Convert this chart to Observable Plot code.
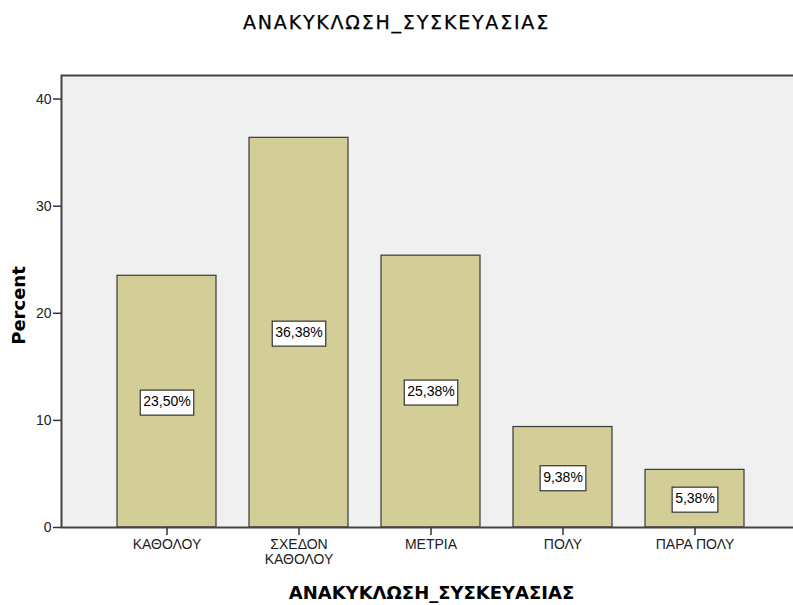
<!DOCTYPE html>
<html>
<head>
<meta charset="utf-8">
<script src="https://cdn.jsdelivr.net/npm/d3@7"></script>
<script src="https://cdn.jsdelivr.net/npm/@observablehq/plot@0.6"></script>
<style>
  html, body { margin: 0; padding: 0; background: #fff; overflow: hidden; }
  #title { height: 44px; line-height: 44px; text-align: center; font-family: "DejaVu Sans", Verdana, sans-serif; font-size: 19px; letter-spacing: 1.8px; color: #000; -webkit-text-stroke: 0.25px #000; }
  #chart svg { overflow: hidden; display: block; }
</style>
</head>
<body>
<div id="title">ΑΝΑΚΥΚΛΩΣΗ_ΣΥΣΚΕΥΑΣΙΑΣ</div>
<div id="chart"></div>
<script>
const categories = ["ΚΑΘΟΛΟΥ", "ΣΧΕΔΟΝ\nΚΑΘΟΛΟΥ", "ΜΕΤΡΙΑ", "ΠΟΛΥ", "ΠΑΡΑ ΠΟΛΥ"];
const percents = [23.50, 36.38, 25.38, 9.38, 5.38];
const valueLabels = ["23,50%", "36,38%", "25,38%", "9,38%", "5,38%"];
const yTicks = [0, 10, 20, 30, 40];
const xTitle = "ΑΝΑΚΥΚΛΩΣΗ_ΣΥΣΚΕΥΑΣΙΑΣ";
const yTitle = "Percent";

const data = categories.map((c, i) => ({cat: c, value: percents[i], label: valueLabels[i]}));

const fontFamily = "'Liberation Sans', Arial, sans-serif";
const titleFont = "'DejaVu Sans', Verdana, sans-serif";

const plot = Plot.plot({
  width: 793,
  height: 561,
  marginLeft: 61,
  marginRight: -8,
  marginTop: 31,
  marginBottom: 78,
  style: {fontFamily, fontSize: "14px", color: "#222", background: "#fff", overflow: "hidden"},
  x: {domain: categories, paddingInner: 0.248, paddingOuter: 0.406, label: null},
  y: {domain: [0, 42.2], label: null},
  marks: [
    Plot.frame({fill: "#f0f0f0"}),
    Plot.barY(data, {x: "cat", y: "value", fill: "#d3ce97", stroke: "#3a3a3a", strokeWidth: 1.2}),
    Plot.frame({stroke: "#444", strokeWidth: 2}),
    Plot.axisX({tickSize: 8, tickPadding: 3, lineHeight: 1.05, label: null, fontSize: 14, stroke: "#333", strokeWidth: 1.5}),
    Plot.axisY({ticks: yTicks, tickSize: 8, tickPadding: 2, label: null, fontSize: 14, stroke: "#333", strokeWidth: 1.5}),
    Plot.text(data, {x: "cat", y: d => d.value / 2, text: "label", fill: "#000", fontSize: 14}),
    Plot.text([xTitle], {frameAnchor: "bottom", lineAnchor: "middle", textAnchor: "middle", dy: 66, fontWeight: "bold", fontSize: 18, fontFamily: titleFont, fill: "#000"}),
    Plot.text([yTitle], {frameAnchor: "left", textAnchor: "middle", lineAnchor: "middle", rotate: -90, dx: -42, dy: 4, fontWeight: "bold", fontSize: 18, fontFamily: titleFont, fill: "#000"})
  ]
});

document.getElementById("chart").appendChild(plot);

// draw white boxes behind the value labels, sized from the rendered text
const svgNS = "http://www.w3.org/2000/svg";
const labelSet = new Set(valueLabels);
plot.querySelectorAll("text").forEach(t => {
  if (!labelSet.has(t.textContent)) return;
  const b = t.getBBox();
  const r = document.createElementNS(svgNS, "rect");
  const padX = 3, padY = 5;
  r.setAttribute("x", b.x - padX);
  r.setAttribute("y", b.y - padY + 2);
  r.setAttribute("width", b.width + 2 * padX);
  r.setAttribute("height", b.height + 2 * padY - 1);
  r.setAttribute("fill", "#fff");
  r.setAttribute("stroke", "#333");
  r.setAttribute("stroke-width", 1.2);
  const tr = t.getAttribute("transform");
  if (tr) r.setAttribute("transform", tr);
  t.parentNode.insertBefore(r, t);
});
</script>
</body>
</html>
